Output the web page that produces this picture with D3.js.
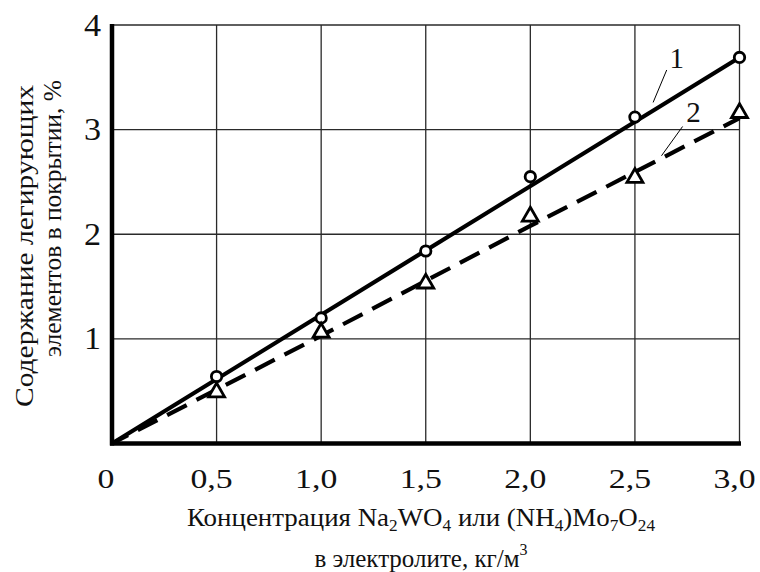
<!DOCTYPE html>
<html>
<head>
<meta charset="utf-8">
<script src="https://cdn.jsdelivr.net/npm/d3@7/dist/d3.min.js"></script>
<style>
  html, body { margin: 0; padding: 0; background: #fff; }
</style>
</head>
<body>
<svg id="chart" width="760" height="572" font-family="Liberation Serif, Times New Roman, serif" fill="#111"></svg>
<script>
// measured points
const conc = [0.5, 1.0, 1.5, 2.0, 2.5, 3.0];
const series1 = [0.64, 1.20, 1.84, 2.55, 3.12, 3.69];   // circles
const series2 = [0.49, 1.06, 1.53, 2.17, 2.54, 3.16];   // triangles

// fitted lines
const fit1 = [[0, 0], [3.0, 3.69]];
const fit2 = [[0, 0], [1.0, 1.03], [2.0, 2.08], [3.0, 3.11]];

const xTicks = [0, 0.5, 1.0, 1.5, 2.0, 2.5, 3.0];
const xTickLabels = ['0', '0,5', '1,0', '1,5', '2,0', '2,5', '3,0'];
const yTicks = [1, 2, 3, 4];
const yTickLabels = ['1', '2', '3', '4'];

// curve labels: [label, labelX, labelY, leaderFrom, leaderTo]
const curveLabels = [
  ['1', 2.70, 3.59, [2.652, 3.57], [2.587, 3.26]],
  ['2', 2.78, 3.07, [2.728, 3.03], [2.627, 2.75]]
];

const svg = d3.select('#chart');
const x = d3.scaleLinear().domain([0, 3]).range([112, 739.5]);
const y = d3.scaleLinear().domain([0, 4]).range([443.5, 25]);

// grid
const grid = svg.append('g').attr('stroke', '#2a2a2a').attr('stroke-width', 1.3);
grid.selectAll('.gx').data(xTicks.slice(1)).enter().append('line')
  .attr('x1', d => x(d)).attr('x2', d => x(d))
  .attr('y1', y(0)).attr('y2', y(4));
grid.selectAll('.gy').data(yTicks).enter().append('line')
  .attr('x1', x(0)).attr('x2', x(3))
  .attr('y1', d => y(d)).attr('y2', d => y(d));

// thick axes
svg.append('line').attr('x1', x(0)).attr('x2', x(0)).attr('y1', y(0) + 2).attr('y2', y(4) - 1)
  .attr('stroke', '#000').attr('stroke-width', 4.5);
svg.append('line').attr('x1', x(0) - 2).attr('x2', x(3) + 1.5).attr('y1', y(0)).attr('y2', y(0))
  .attr('stroke', '#000').attr('stroke-width', 4.5);

// tick labels
svg.selectAll('.xl').data(xTicks).enter().append('text')
  .attr('transform', d => `translate(${x(d) - (d === 0 ? 6 : 5)},488) scale(1.25,1)`)
  .attr('text-anchor', 'middle')
  .attr('font-size', 27)
  .text((d, i) => xTickLabels[i]);

svg.selectAll('.yl').data(yTicks).enter().append('text')
  .attr('transform', d => `translate(101,${y(d) + 10.5}) scale(1.1,1)`)
  .attr('text-anchor', 'end')
  .attr('font-size', 31)
  .text((d, i) => yTickLabels[i]);

// lines
const line = d3.line().x(d => x(d[0])).y(d => y(d[1]));
svg.append('path').datum(fit1).attr('d', line)
  .attr('fill', 'none').attr('stroke', '#000').attr('stroke-width', 4.2);
svg.append('path').datum(fit2).attr('d', line)
  .attr('fill', 'none').attr('stroke', '#000').attr('stroke-width', 4.2)
  .attr('stroke-dasharray', '22 11').attr('stroke-dashoffset', 4);

// markers
svg.selectAll('.c1').data(conc).enter().append('circle')
  .attr('cx', d => x(d)).attr('cy', (d, i) => y(series1[i]))
  .attr('r', 5.2).attr('fill', '#fff').attr('stroke', '#000').attr('stroke-width', 2.8);

const tri = d3.symbol().type(d3.symbolTriangle).size(110);
svg.selectAll('.t2').data(conc).enter().append('path')
  .attr('d', tri)
  .attr('transform', (d, i) => `translate(${x(d)},${y(series2[i])})`)
  .attr('fill', '#fff').attr('stroke', '#000').attr('stroke-width', 2.8);

// curve labels with leaders
curveLabels.forEach(([t, lx, ly, a, b]) => {
  svg.append('line')
    .attr('x1', x(a[0])).attr('y1', y(a[1]))
    .attr('x2', x(b[0])).attr('y2', y(b[1]))
    .attr('stroke', '#000').attr('stroke-width', 1);
  svg.append('text').attr('x', x(lx)).attr('y', y(ly))
    .attr('text-anchor', 'middle').attr('font-size', 29).text(t);
});

// y axis title
const yt = svg.append('g').attr('font-size', 25);
yt.append('text').attr('transform', 'translate(33,85) rotate(-90)')
  .attr('text-anchor', 'end')
  .attr('textLength', 322).attr('lengthAdjust', 'spacingAndGlyphs')
  .text('Содержание легирующих');
yt.append('text').attr('transform', 'translate(61,80) rotate(-90)')
  .attr('text-anchor', 'end')
  .attr('textLength', 277).attr('lengthAdjust', 'spacingAndGlyphs')
  .text('элементов в покрытии, %');

// x axis title
const xt = svg.append('text').attr('x', 187).attr('y', 526).attr('font-size', 25)
  .attr('textLength', 468).attr('lengthAdjust', 'spacingAndGlyphs');
const sub = (s) => xt.append('tspan').attr('font-size', 16).attr('dy', 5).text(s);
const norm = (s) => xt.append('tspan').attr('font-size', 25).attr('dy', -5).text(s);
xt.append('tspan').text('Концентрация Na');
sub('2');
norm('WO');
sub('4');
norm(' или (NH');
sub('4');
norm(')Mo');
sub('7');
norm('O');
sub('24');

const xt2 = svg.append('text').attr('x', 421).attr('y', 567).attr('font-size', 25)
  .attr('text-anchor', 'middle');
xt2.append('tspan').text('в электролите, кг/м');
xt2.append('tspan').attr('font-size', 16).attr('dy', -12).text('3');
</script>
</body>
</html>
